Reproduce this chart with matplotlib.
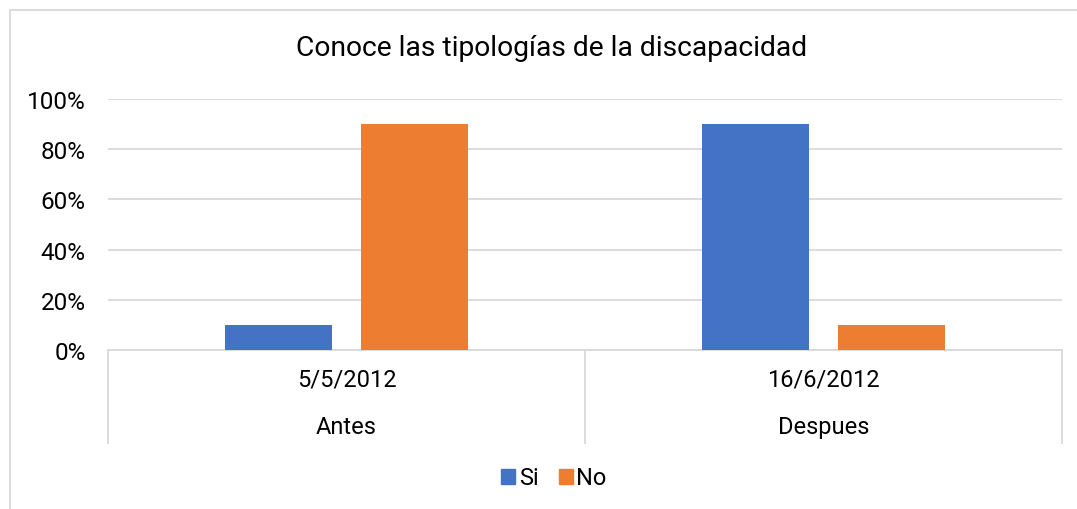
import matplotlib.pyplot as plt
from matplotlib.patches import Patch
from matplotlib.lines import Line2D
import numpy as np

plt.rcParams['font.family'] = ['Roboto', 'DejaVu Sans']

dates = ['5/5/2012', '16/6/2012']
groups = ['Antes', 'Despues']
si = [0.10, 0.90]
no = [0.90, 0.10]

blue = '#4472C4'
orange = '#ED7D31'
grid_c = '#D9D9D9'

fig = plt.figure(figsize=(10.77, 5.10), dpi=100)
ax = fig.add_axes([108 / 1077, 159 / 510, 954 / 1077, 251 / 510])

x = np.arange(len(dates))
w = 0.224
off = 0.1425
ax.bar(x - off, si, w, color=blue, zorder=3)
ax.bar(x + off, no, w, color=orange, zorder=3)

ax.set_xlim(-0.5, 1.5)
ax.set_ylim(0, 1)
ax.set_yticks(np.arange(0, 1.01, 0.2))
ax.set_yticklabels([f'{int(round(v * 100))}%' for v in np.arange(0, 1.01, 0.2)], fontsize=17.5)
ax.yaxis.grid(True, color=grid_c, linewidth=1.3, zorder=0)
ax.set_xticks([])
ax.tick_params(axis='y', length=0, pad=16)
for s in ['top', 'right', 'left']:
    ax.spines[s].set_visible(False)
ax.spines['bottom'].set_color(grid_c)
ax.spines['bottom'].set_linewidth(1.3)

# multi-level category axis
trans = ax.get_xaxis_transform()
for xv in [-0.5, 0.5, 1.5]:
    ax.add_line(Line2D([xv, xv], [0, -0.37], transform=trans, color=grid_c,
                       linewidth=1.3, clip_on=False))
for xi, d, g in zip(x, dates, groups):
    ax.text(xi, -0.115, d, transform=trans, ha='center', va='center', fontsize=17)
    ax.text(xi, -0.305, g, transform=trans, ha='center', va='center', fontsize=17)

fig.text(552 / 1077, 1 - 48 / 510, 'Conoce las tipologías de la discapacidad',
         ha='center', va='center', fontsize=20.3)

handles = [Patch(color=blue, label='Si'), Patch(color=orange, label='No')]
fig.legend(handles=handles, loc='center', bbox_to_anchor=(554 / 1077, 1 - 479 / 510),
           ncol=2, frameon=False, fontsize=17, handlelength=0.6, handleheight=0.6,
           handletextpad=0.15, columnspacing=0.85)

# chart border (top and left visible)
fig.add_artist(Line2D([10 / 1077, 1], [1 - 11 / 510, 1 - 11 / 510], color=grid_c, linewidth=1.3))
fig.add_artist(Line2D([10 / 1077, 10 / 1077], [0, 1 - 11 / 510], color=grid_c, linewidth=1.3))

fig.savefig('out.png', dpi=100)
